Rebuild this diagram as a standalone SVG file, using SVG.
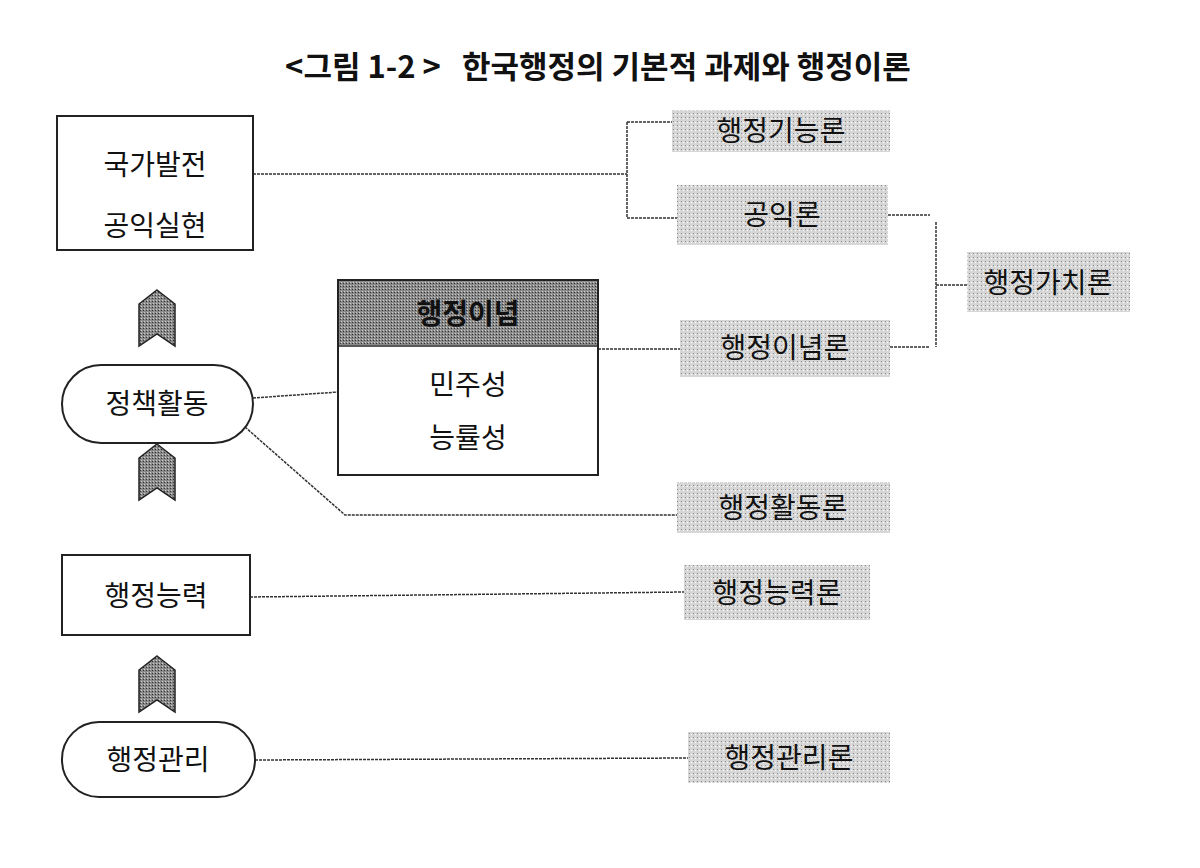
<svg xmlns="http://www.w3.org/2000/svg" width="1200" height="868" viewBox="0 0 1200 868">
<defs>
<pattern id="dots" width="4" height="4" patternUnits="userSpaceOnUse"><rect width="4" height="4" fill="#d6d6d6"/><rect x="1" y="1" width="1" height="1" fill="#888"/><rect x="3" y="2" width="1" height="1" fill="#fff"/></pattern>
<pattern id="dark" width="3" height="3" patternUnits="userSpaceOnUse"><rect width="3" height="3" fill="#8a8a8a"/><rect x="1" y="1" width="1" height="1" fill="#333"/><rect x="2" y="0" width="1" height="1" fill="#ccc"/></pattern>
<path id="chev" d="M0,-28 L18,-14 L18,28 L0,16 L-18,28 L-18,-14 Z"/>
</defs>
<style>
text{font-family:"Noto Sans CJK KR","Noto Sans",sans-serif;fill:#111;text-anchor:middle}
.n{fill:#fff;stroke:#222;stroke-width:2}
.g{fill:url(#dots);stroke:none}
.t{font-size:28px}
.c{fill:none;stroke:#333;stroke-width:1.5;stroke-dasharray:3 1}
.a{fill:url(#dark);stroke:#222;stroke-width:1.5}
</style>
<rect width="1200" height="868" fill="#fff"/>
<text x="598" y="78" style="font-size:31px;font-weight:bold">&lt;그림 1-2 &gt;&#160;&#160;&#160;한국행정의 기본적 과제와 행정이론</text>
<g id="connectors">
<path class="c" d="M253,174 H627 M627,122 V218 M627,122 H672 M627,218 H677"/>
<path class="c" d="M888,215 H930 M890,347 H930 M936,222 V347 M936,285 H967"/>
<path class="c" d="M253,398 L338,392 M598,349 H680 M245,427 L345,515 H677 M250,597 L684,592 M255,760 L688,758"/>
</g>
<g id="arrows">
<use href="#chev" x="157" y="318" class="a"/>
<use href="#chev" x="157" y="472" class="a"/>
<use href="#chev" x="157" y="684" class="a"/>
</g>
<g id="n1"><rect class="n" x="57" y="116" width="196" height="134"/><text class="t" x="155" y="175">국가발전</text><text class="t" x="155" y="236">공익실현</text></g>
<g id="n2"><rect class="n" x="62" y="365" width="191" height="78" rx="39"/><text class="t" x="157" y="414">정책활동</text></g>
<g id="n3"><rect class="n" x="338" y="280" width="260" height="195"/><rect x="339" y="281" width="258" height="64" fill="url(#dark)"/><line x1="338" y1="346" x2="598" y2="346" stroke="#222" stroke-width="1.5"/><text class="t" x="468" y="324" style="font-weight:bold">행정이념</text><text class="t" x="468" y="395">민주성</text><text class="t" x="468" y="448">능률성</text></g>
<g id="n4"><rect class="n" x="62" y="555" width="188" height="80"/><text class="t" x="156" y="606">행정능력</text></g>
<g id="n5"><rect class="n" x="62" y="722" width="193" height="75" rx="37"/><text class="t" x="158" y="770">행정관리</text></g>
<g id="r1"><rect class="g" x="672" y="110" width="218" height="42"/><text class="t" x="781" y="141">행정기능론</text></g>
<g id="r2"><rect class="g" x="677" y="185" width="211" height="60"/><text class="t" x="782" y="225">공익론</text></g>
<g id="r3"><rect class="g" x="680" y="320" width="210" height="57"/><text class="t" x="785" y="358">행정이념론</text></g>
<g id="r4"><rect class="g" x="967" y="252" width="163" height="60"/><text class="t" x="1048" y="293">행정가치론</text></g>
<g id="r5"><rect class="g" x="677" y="482" width="213" height="51"/><text class="t" x="783" y="518">행정활동론</text></g>
<g id="r6"><rect class="g" x="684" y="565" width="186" height="55"/><text class="t" x="777" y="603">행정능력론</text></g>
<g id="r7"><rect class="g" x="688" y="732" width="202" height="51"/><text class="t" x="789" y="768">행정관리론</text></g>
</svg>
